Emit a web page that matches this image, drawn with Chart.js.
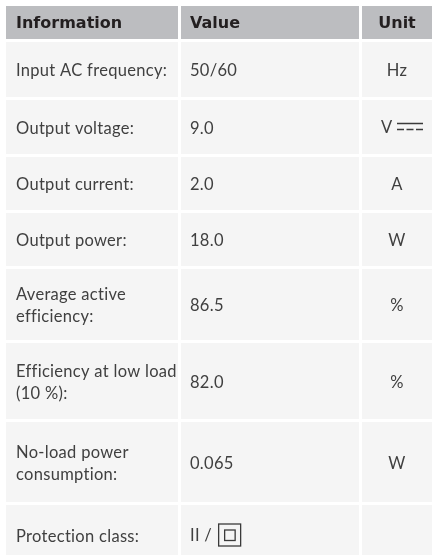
<!DOCTYPE html>
<html>
<head>
  <title>Technical data</title>
  <script src="https://cdn.jsdelivr.net/npm/chart.js"></script>
</head>
<style>
  body { margin: 0; background: #ffffff; }
  .chart-container { position: relative; width: 432px; height: 555px; }
</style>
<body>
  <div class="chart-container">
    <canvas id="chart"></canvas>
  </div>

  <script>
    // table content
    const headers = ["Information", "Value", "Unit"];
    const infoLabels = [
      ["Input AC frequency:"],
      ["Output voltage:"],
      ["Output current:"],
      ["Output power:"],
      ["Average active", "efficiency:"],
      ["Efficiency at low load", "(10 %):"],
      ["No-load power", "consumption:"],
      ["Protection class:"],
    ];
    const values = ["50/60", "9.0", "2.0", "18.0", "86.5", "82.0", "0.065", "II / ⧈"];
    const units = ["Hz", "V ⎓", "A", "W", "%", "%", "W", ""];

    // layout of the table (pixels, chart area = whole canvas)
    const colEdges = [[6, 178], [181, 359], [362, 440]];
    const rowHeights = [33, 55, 54, 53, 53, 71, 76, 80, 60];
    const rowGap = 3;
    const tableTop = 6;

    const headerBg = "#bcbdc0";
    const cellBg = "#f5f5f5";

    // build one dataset per row, each cell is a floating bar
    const rows = [headers].concat(infoLabels.map((l, i) => [l, values[i], units[i]]));
    let rowTop = tableTop;
    const datasets = rows.map((row, r) => {
      const h = rowHeights[r];
      const center = rowTop + h / 2;
      rowTop += h + rowGap;
      return {
        label: r === 0 ? "header" : "row " + r,
        data: colEdges.map((c) => ({ x: c, y: center })),
        cells: row,
        barThickness: h,
        backgroundColor: r === 0 ? headerBg : cellBg,
        borderWidth: 0,
        inflateAmount: 0,
      };
    });

    // draws the direct current symbol after "V"
    function drawDC(ctx, x, y) {
      ctx.save();
      ctx.strokeStyle = "#3a3a3a";
      ctx.lineWidth = 1.3;
      ctx.beginPath();
      ctx.moveTo(x, y - 3.5);
      ctx.lineTo(x + 26, y - 3.5);
      for (let i = 0; i < 3; i++) {
        ctx.moveTo(x + i * 9.5, y + 2.5);
        ctx.lineTo(x + i * 9.5 + 7, y + 2.5);
      }
      ctx.stroke();
      ctx.restore();
    }

    // protection class II symbol (square in square)
    function drawClass2(ctx, x, y) {
      ctx.save();
      ctx.strokeStyle = "#3a3a3a";
      ctx.lineWidth = 1.3;
      ctx.strokeRect(x, y - 11, 22, 22);
      ctx.strokeRect(x + 6, y - 5, 10.5, 10.5);
      ctx.restore();
    }

    const cellText = {
      id: "cellText",
      afterDatasetsDraw(chart) {
        const ctx = chart.ctx;
        ctx.save();
        ctx.textBaseline = "middle";
        chart.data.datasets.forEach((ds, r) => {
          const meta = chart.getDatasetMeta(r);
          meta.data.forEach((bar, c) => {
            const left = Math.min(bar.x, bar.base);
            const right = Math.max(bar.x, bar.base);
            const cy = bar.y;
            let txt = ds.cells[c];
            if (r === 0) {
              ctx.font = "bold 16px 'DejaVu Sans'";
              ctx.fillStyle = "#231f20";
              ctx.letterSpacing = "0px";
            } else {
              ctx.font = "16.5px Lato";
              ctx.fillStyle = "#404040";
              ctx.letterSpacing = "0.3px";
            }
            if (c === 2) {
              ctx.textAlign = "center";
              const mid = (left + Math.min(right, chart.chartArea.right)) / 2;
              if (txt.indexOf("⎓") >= 0) {
                ctx.textAlign = "left";
                ctx.fillText("V", mid - 16, cy + 1);
                drawDC(ctx, mid, cy);
              } else {
                ctx.fillText(txt, mid, cy + 1.5);
              }
              return;
            }
            ctx.textAlign = "left";
            const x = left + (c === 0 ? 10 : 9);
            if (typeof txt === "string" && txt.indexOf("⧈") >= 0) {
              const t = txt.replace("⧈", "").trim();
              ctx.fillText(t, x, cy + 1);
              drawClass2(ctx, x + ctx.measureText(t + " ").width + 2, cy);
              return;
            }
            const lines = Array.isArray(txt) ? txt : [txt];
            const lh = 22;
            lines.forEach((line, k) => {
              ctx.fillText(line, x, cy + 1.5 + (k - (lines.length - 1) / 2) * lh);
            });
          });
        });
        ctx.restore();
      },
    };

    const chart = new Chart("chart", {
      type: "bar",
      data: { datasets: datasets },
      options: {
        indexAxis: "y",
        responsive: true,
        maintainAspectRatio: false,
        animation: false,
        grouped: false,
        layout: { padding: 0 },
        plugins: {
          legend: { display: false },
          tooltip: { enabled: false },
        },
        scales: {
          x: { type: "linear", min: 0, max: 432, display: false },
          y: { type: "linear", min: 0, max: 555, reverse: true, offset: false, display: false },
        },
      },
      plugins: [cellText],
    });
  </script>
</body>
</html>
